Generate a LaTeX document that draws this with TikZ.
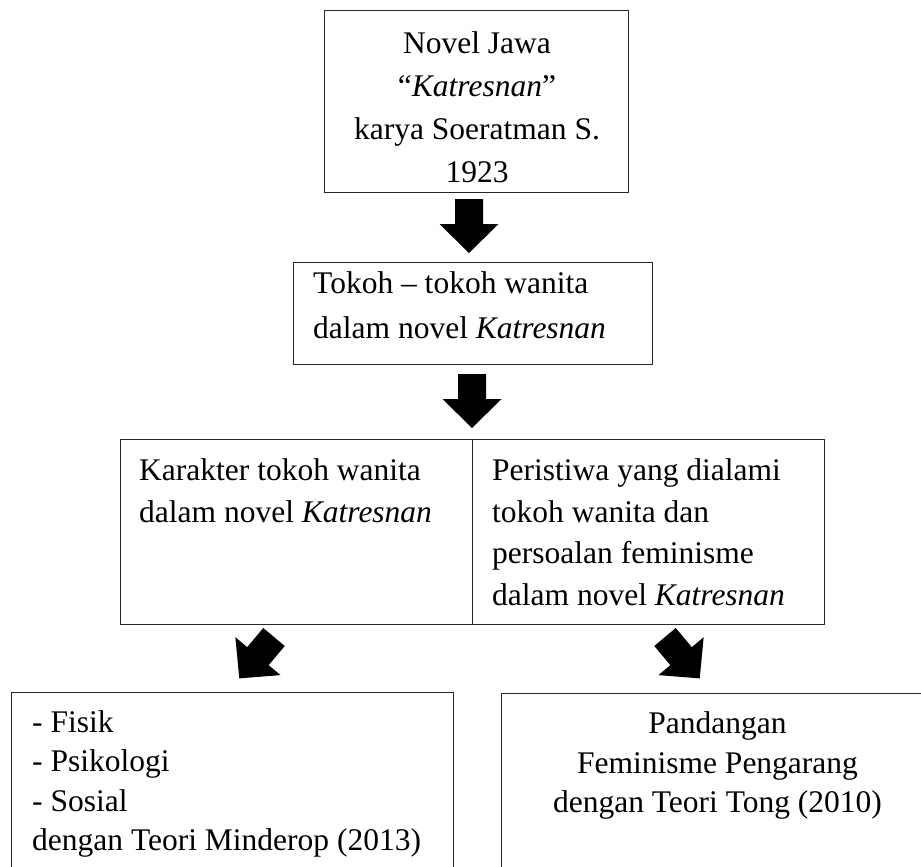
\documentclass[tikz,border=0pt]{standalone}
\usepackage{fontspec}
\setmainfont{Liberation Serif}
\begin{document}
\begin{tikzpicture}[x=1pt,y=1pt,
  box/.style={draw=black!85, line width=1.1pt, inner sep=0pt, anchor=north west, rectangle},
  txt/.style={inner sep=0pt, text=black},
  blockarrow/.pic={\fill[black] (0,14) -- (25,14) -- (25,29.5) -- (54,0) -- (25,-29.5) -- (25,-14) -- (0,-14) -- cycle;}
]
\clip (0,0) rectangle (921,-867);
\fill[white] (0,0) rectangle (921,-867);
% boxes
\node[box, minimum width=304pt, minimum height=182pt] (top) at (324,-10) {};
\node[box, minimum width=359pt, minimum height=102pt] (mid) at (293,-262) {};
\node[box, minimum width=352pt, minimum height=185pt] (karakter) at (120,-439) {};
\node[box, minimum width=352pt, minimum height=185pt] (peristiwa) at (472,-439) {};
\node[box, minimum width=442pt, minimum height=220pt] (fisik) at (11,-692) {};
\node[box, minimum width=433pt, minimum height=220pt] (pandangan) at (501,-693) {};
% texts
\node[txt, anchor=north, align=center, font=\fontsize{31.5}{42.8}\selectfont] (ttop) at (477,-31.6)
  {Novel Jawa\\“\textit{Katresnan}”\\karya Soeratman S.\\1923};
\node[txt, anchor=north west, align=left, font=\fontsize{31.5}{45}\selectfont] (tmid) at (313,-271.6)
  {Tokoh – tokoh wanita\\dalam novel \textit{Katresnan}};
\node[txt, anchor=north west, align=left, font=\fontsize{31.5}{41.7}\selectfont] (tkar) at (139,-458.4)
  {Karakter tokoh wanita\\dalam novel \textit{Katresnan}};
\node[txt, anchor=north west, align=left, font=\fontsize{31.5}{41.7}\selectfont] (tper) at (492,-458.4)
  {Peristiwa yang dialami\\tokoh wanita dan\\persoalan feminisme\\dalam novel \textit{Katresnan}};
\node[txt, anchor=north west, align=left, font=\fontsize{31.5}{39.5}\selectfont] (tfis) at (32,-710.4)
  {- Fisik\\- Psikologi\\- Sosial\\dengan Teori Minderop (2013)};
\node[txt, anchor=north, align=center, font=\fontsize{31.5}{39.5}\selectfont] (tpan) at (717.5,-711.6)
  {Pandangan\\Feminisme Pengarang\\dengan Teori Tong (2010)};
% arrows
\coordinate (a1) at (469,-199);
\coordinate (a2) at (472,-374);
\coordinate (a3) at (274,-637);
\coordinate (a4) at (665,-637);
\pic[rotate=-90] at (a1) {blockarrow};
\pic[rotate=-90] at (a2) {blockarrow};
\pic[rotate=230] at (a3) {blockarrow};
\pic[rotate=310] at (a4) {blockarrow};
\end{tikzpicture}
\end{document}
